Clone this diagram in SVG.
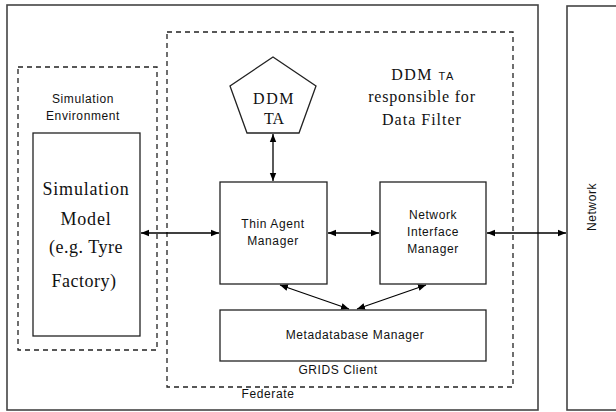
<svg xmlns="http://www.w3.org/2000/svg" width="616" height="412" viewBox="0 0 616 412">
<defs>
<marker id="ah" viewBox="0 0 10 10" refX="10" refY="5" markerWidth="8" markerHeight="8" orient="auto-start-reverse" markerUnits="userSpaceOnUse">
<path d="M0,1 L10,5 L0,9 z" fill="#000"/>
</marker>
<style>
.box{fill:#fff;stroke:#222;stroke-width:1.3}
.frame{fill:none;stroke:#444;stroke-width:1.6}
.dash{fill:none;stroke:#222;stroke-width:1.3;stroke-dasharray:5 4}
.con{fill:none;stroke:#000;stroke-width:1.3;marker-start:url(#ah);marker-end:url(#ah)}
.dcon{fill:none;stroke:#000;stroke-width:1;stroke-dasharray:4 2;marker-start:url(#ah);marker-end:url(#ah)}
.sans{font-family:"Liberation Sans",Arial,sans-serif;font-size:12px;fill:#111;text-anchor:middle;letter-spacing:0.6px}
.serif{font-family:"Liberation Serif","Times New Roman",serif;fill:#111;text-anchor:middle}
</style>
</defs>
<rect width="616" height="412" fill="#fff"/>
<g id="federate">
<rect class="frame" x="7" y="5" width="531" height="405"/>
<text class="sans" x="268" y="398">Federate</text>
</g>
<g id="network">
<rect class="frame" x="567" y="6" width="60" height="404"/>
<text class="sans" transform="translate(596,207) rotate(-90)">Network</text>
</g>
<g id="grids-client">
<rect class="dash" x="167" y="32" width="346" height="355"/>
<text class="sans" x="338" y="374">GRIDS Client</text>
</g>
<g id="ddm-label">
<text class="serif" x="423" y="80" font-size="16" letter-spacing="1.5">DDM <tspan font-size="11" font-family="Liberation Sans,Arial,sans-serif">TA</tspan></text>
<text class="serif" x="422" y="102" font-size="16" letter-spacing="0.8">responsible for</text>
<text class="serif" x="422" y="125" font-size="16" letter-spacing="1">Data Filter</text>
</g>
<g id="sim-env">
<rect class="dash" x="18" y="67" width="139" height="283"/>
<text class="sans" x="83" y="103">Simulation</text>
<text class="sans" x="83" y="120">Environment</text>
</g>
<g id="sim-model">
<rect class="box" x="33" y="133" width="107" height="203"/>
<text class="serif" x="86" y="195" font-size="18" letter-spacing="0.8">Simulation</text>
<text class="serif" x="86" y="225" font-size="18" letter-spacing="0.8">Model</text>
<text class="serif" x="86" y="253" font-size="18" letter-spacing="0.5">(e.g. Tyre</text>
<text class="serif" x="84" y="287" font-size="18" letter-spacing="0.5">Factory)</text>
</g>
<g id="ddm-ta">
<polygon class="box" points="273,57 316,86 299,133 247,133 230,86"/>
<text class="serif" x="274" y="104" font-size="16" letter-spacing="1.5">DDM</text>
<text class="serif" x="274" y="124" font-size="16">TA</text>
</g>
<g id="thin-agent">
<rect class="box" x="220" y="182" width="107" height="102"/>
<text class="sans" x="273" y="228">Thin Agent</text>
<text class="sans" x="273" y="245">Manager</text>
</g>
<g id="nim">
<rect class="box" x="380" y="182" width="106" height="102"/>
<text class="sans" x="433" y="219">Network</text>
<text class="sans" x="433" y="236">Interface</text>
<text class="sans" x="433" y="253">Manager</text>
</g>
<g id="metadb">
<rect class="box" x="220" y="310" width="266" height="51"/>
<text class="sans" x="355" y="339" font-size="13" letter-spacing="1.2">Metadatabase Manager</text>
</g>
<g id="connectors">
<line class="con" x1="273" y1="134" x2="273" y2="181"/>
<line class="con" x1="141" y1="233" x2="219" y2="233"/>
<line class="con" x1="328" y1="233" x2="379" y2="233"/>
<line class="con" x1="487" y1="233" x2="566" y2="233"/>
<line class="con" x1="280" y1="285" x2="349" y2="309"/>
<line class="con" x1="426" y1="285" x2="357" y2="309"/>
</g>
</svg>
